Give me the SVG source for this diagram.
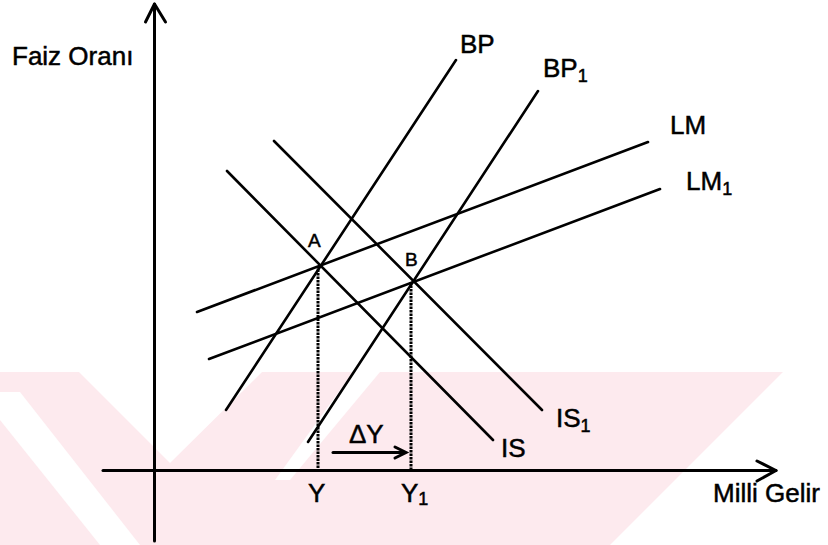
<svg xmlns="http://www.w3.org/2000/svg" width="828" height="545" viewBox="0 0 828 545">
<style>
.ln{stroke:#000;stroke-width:2.6;fill:none;stroke-linecap:round}
.ax{stroke:#000;stroke-width:3;fill:none;stroke-linecap:round;stroke-linejoin:round}
.dot{stroke:#000;stroke-width:3;fill:none;stroke-dasharray:2.5 1}
.t{font-family:"Liberation Sans",Arial,sans-serif;font-size:26px;fill:#000;stroke:#000;stroke-width:0.5}
.s{font-size:18px}
.p{font-family:"Liberation Sans",Arial,sans-serif;font-size:19px;fill:#000;stroke:#000;stroke-width:0.5}
.wm{fill:#fdeaee}
.wh{fill:#fff}
</style>
<rect width="828" height="545" fill="#fff"/>
<g id="watermark">
<rect class="wm" x="0" y="372" width="783" height="173"/>
<polygon class="wh" points="79,372 262,372 170,463"/>
<polygon class="wh" points="0,392 20,392 140,545 100,545 0,420"/>
<polygon class="wh" points="783,372 828,372 828,545 610,545"/>
<polygon class="wh" points="353,372 380,372 290,480 275,480"/>
</g>
<g id="axes">
<line class="ax" x1="154.5" y1="4" x2="154.5" y2="541"/>
<polyline class="ax" points="145.5,22 154.5,4 165.5,22"/>
<line class="ax" x1="103" y1="470.5" x2="776" y2="470.5"/>
<polyline class="ax" points="757,461 776,470.5 757,481"/>
</g>
<g id="connectors">
<line id="IS" class="ln" x1="227" y1="171" x2="493" y2="440"/>
<line id="IS1" class="ln" x1="274" y1="141" x2="542" y2="410"/>
<line id="LM" class="ln" x1="197" y1="312" x2="648" y2="142"/>
<line id="LM1" class="ln" x1="209" y1="359" x2="660" y2="189"/>
<line id="BP" class="ln" x1="226" y1="410" x2="456" y2="60"/>
<line id="BP1" class="ln" x1="308" y1="442" x2="538" y2="91"/>
<line class="dot" x1="318" y1="266" x2="318" y2="470"/>
<line class="dot" x1="411" y1="282" x2="411" y2="470"/>
<line class="ln" x1="333" y1="452.5" x2="405" y2="452.5" style="stroke-width:3"/>
<polyline class="ln" points="395,447 406,452.5 395,458" style="stroke-width:3"/>
</g>
<g id="labels">
<text class="t" x="12" y="65">Faiz Oranı</text>
<text class="t" x="460" y="53">BP</text>
<text class="t" x="543" y="77">BP<tspan class="s" dy="5">1</tspan></text>
<text class="t" x="670" y="134">LM</text>
<text class="t" x="686" y="190">LM<tspan class="s" dy="5">1</tspan></text>
<text class="p" x="308" y="247">A</text>
<text class="p" x="405" y="266">B</text>
<text class="t" x="349" y="443">ΔY</text>
<text class="t" x="501" y="457">IS</text>
<text class="t" x="556" y="427">IS<tspan class="s" dy="5">1</tspan></text>
<text class="t" x="308" y="502">Y</text>
<text class="t" x="401" y="502">Y<tspan class="s" dy="3">1</tspan></text>
<text class="t" x="713" y="502">Milli Gelir</text>
</g>
</svg>
